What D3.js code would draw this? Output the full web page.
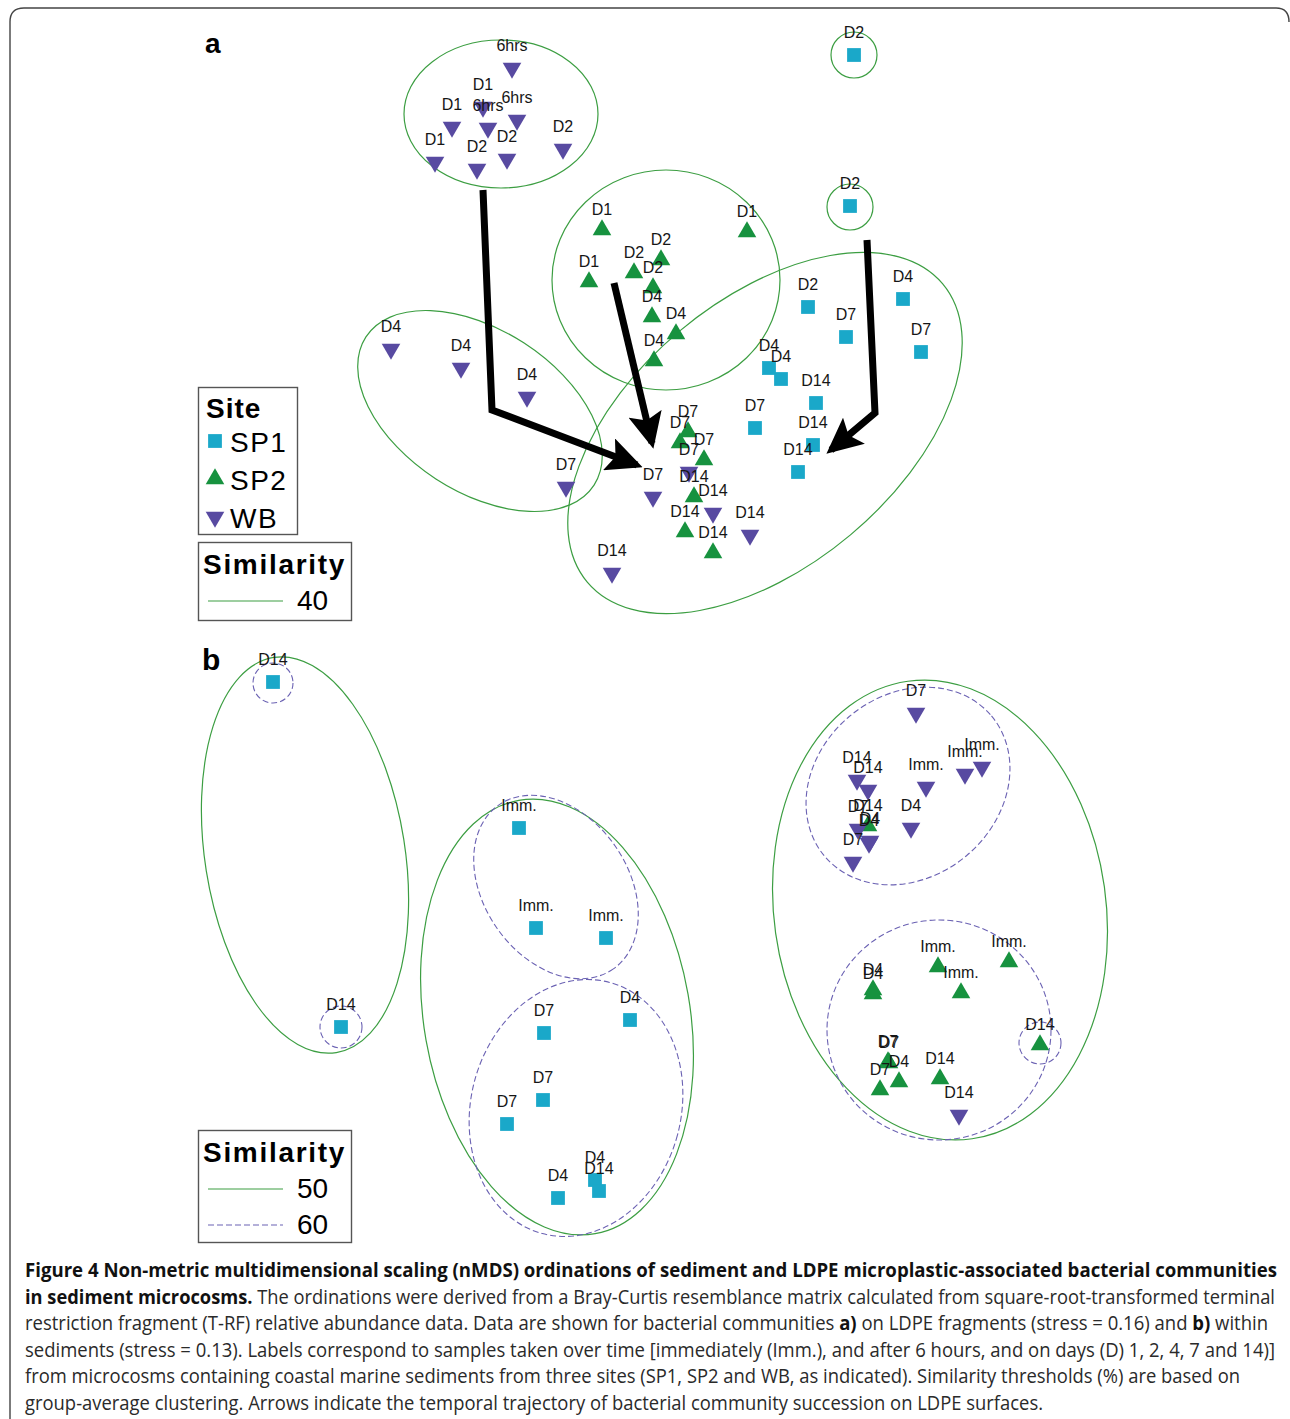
<!DOCTYPE html>
<html>
<head>
<meta charset="utf-8">
<script src="https://cdn.jsdelivr.net/npm/d3@7"></script>
<style>
  body { margin: 0; background: #fff; }
  svg { display: block; }
  .lab { font-family: "Liberation Sans", Arial, sans-serif; font-size: 16px; fill: #161616; text-anchor: middle; }
  .leg { font-family: "Liberation Sans", Arial, sans-serif; fill: #000; }
  .cap { font-family: "Open Sans", "Liberation Sans", sans-serif; font-size: 19.5px; fill: #2a2a2a; }
</style>
</head>
<body>
<script>
// nMDS ordinations, figure 4 (arbitrary ordination units)

var W = 1290, H = 1419;

var siteColor = { SP1: "#1aa8c9", SP2: "#17923f", WB: "#584aa1" };

// panel a : LDPE fragments   [x, y, label]
var aSP1 = [
  [1.94, 2.75, "D2"], [1.90, 1.24, "D2"], [1.48, 0.23, "D2"], [2.43, 0.31, "D4"],
  [1.86, -0.07, "D7"], [2.61, -0.22, "D7"], [1.09, -0.38, "D4"], [1.21, -0.49, "D4"],
  [1.56, -0.73, "D14"], [0.95, -0.98, "D7"], [1.53, -1.15, "D14"], [1.38, -1.42, "D14"]
];
var aSP2 = [
  [-0.58, 1.00, "D1"], [0.87, 0.98, "D1"], [-0.71, 0.48, "D1"], [-0.26, 0.57, "D2"],
  [0.01, 0.70, "D2"], [-0.07, 0.42, "D2"], [-0.08, 0.13, "D4"], [0.16, -0.04, "D4"],
  [-0.06, -0.31, "D4"], [0.28, -1.02, "D7"], [0.20, -1.13, "D7"], [0.44, -1.30, "D7"],
  [0.34, -1.67, "D14"], [0.25, -2.02, "D14"], [0.53, -2.23, "D14"]
];
var aWB = [
  [-1.48, 2.62, "6hrs"], [-1.77, 2.23, "D1"], [-2.08, 2.03, "D1"], [-1.72, 2.02, "6hrs"],
  [-1.43, 2.10, "6hrs"], [-2.25, 1.68, "D1"], [-1.83, 1.61, "D2"], [-1.53, 1.71, "D2"],
  [-0.97, 1.81, "D2"], [-2.69, -0.19, "D4"], [-1.99, -0.38, "D4"], [-1.33, -0.67, "D4"],
  [-0.94, -1.57, "D7"], [0.29, -1.42, "D7"], [-0.07, -1.67, "D7"], [0.53, -1.83, "D14"],
  [0.90, -2.05, "D14"], [-0.48, -2.43, "D14"]
];
// 40% similarity contours  [cx, cy, rx, ry, angle]
var aSim40 = [
  [-1.59, 2.16, 0.97, 0.74, 0], [1.94, 2.75, 0.23, 0.23, 0], [1.90, 1.23, 0.23, 0.23, 0],
  [-1.80, -0.81, 1.36, 0.81, 33], [0.06, 0.50, 1.14, 1.10, 0], [1.05, -1.03, 2.32, 1.33, -40]
];
// succession arrows
var aArrows = [
  [[-1.77, 1.40], [-1.68, -0.80], [-0.23, -1.35]],
  [[-0.46, 0.47], [-0.08, -1.13]],
  [[2.07, 0.90], [2.15, -0.83], [1.71, -1.20]]
];

// panel b : sediments
var bSP1 = [
  [-3.87, 2.68, "D14"], [-3.19, -0.77, "D14"], [-1.41, 1.22, "Imm."], [-1.24, 0.22, "Imm."],
  [-0.54, 0.12, "Imm."], [-0.30, -0.70, "D4"], [-1.16, -0.83, "D7"], [-1.17, -1.50, "D7"],
  [-1.53, -1.74, "D7"], [-1.02, -2.48, "D4"], [-0.65, -2.30, "D4"], [-0.61, -2.41, "D14"]
];
var bSP2 = [
  [2.08, 1.24, "D14"], [2.78, -0.17, "Imm."], [3.49, -0.12, "Imm."], [3.01, -0.43, "Imm."],
  [2.13, -0.40, "D4"], [2.13, -0.44, "D4"], [3.80, -0.95, "D14"], [2.28, -1.12, "D7"],
  [2.29, -1.13, "D7"], [2.39, -1.32, "D4"], [2.20, -1.40, "D7"], [2.80, -1.29, "D14"]
];
var bWB = [
  [2.56, 2.37, "D7"], [3.05, 1.76, "Imm."], [3.22, 1.83, "Imm."], [2.66, 1.63, "Imm."],
  [1.97, 1.70, "D14"], [2.08, 1.60, "D14"], [1.98, 1.21, "D7"], [2.09, 1.07, "D4"],
  [2.10, 1.09, "D4"], [2.51, 1.22, "D4"], [1.93, 0.88, "D7"], [2.99, -1.65, "D14"]
];
var bSim50 = [
  [-3.55, 0.95, 1.00, 2.00, -9], [-1.03, -0.67, 1.33, 2.20, -10], [2.80, 0.40, 1.66, 2.31, -8]
];
var bSim60 = [
  [-3.87, 2.67, 0.20, 0.20, 0], [-3.19, -0.77, 0.21, 0.21, 0], [-1.04, 0.63, 1.00, 0.72, 55],
  [-0.84, -1.58, 1.05, 1.30, 15], [2.48, 1.64, 1.09, 0.91, -40], [2.79, -0.80, 1.12, 1.10, 0],
  [3.80, -0.93, 0.21, 0.21, 0]
];

var captionLines = [
  [["b", "Figure 4 Non-metric multidimensional scaling (nMDS) ordinations of sediment and LDPE microplastic-associated bacterial communities"]],
  [["b", "in sediment microcosms."], ["r", " The ordinations were derived from a Bray-Curtis resemblance matrix calculated from square-root-transformed terminal"]],
  [["r", "restriction fragment (T-RF) relative abundance data. Data are shown for bacterial communities "], ["b", "a)"], ["r", " on LDPE fragments (stress = 0.16) and "], ["b", "b)"], ["r", " within"]],
  [["r", "sediments (stress = 0.13). Labels correspond to samples taken over time [immediately (Imm.), and after 6 hours, and on days (D) 1, 2, 4, 7 and 14)]"]],
  [["r", "from microcosms containing coastal marine sediments from three sites (SP1, SP2 and WB, as indicated). Similarity thresholds (%) are based on"]],
  [["r", "group-average clustering. Arrows indicate the temporal trajectory of bacterial community succession on LDPE surfaces."]]
];
var captionEnds = [1277, 1275, 1268, 1275, 1240, 1043];

//////////////////////////////////////////////////////////////////////////////

var svg = d3.select("body").append("svg").attr("width", W).attr("height", H);

var xA = d3.scaleLinear().domain([-6, 6]).range([60, 1260]);
var yA = d3.scaleLinear().domain([-3, 3]).range([630, 30]);
var xB = d3.scaleLinear().domain([-6, 6]).range([60, 1260]);
var yB = d3.scaleLinear().domain([-3, 3]).range([1250, 650]);

// figure frame
svg.append("path")
  .attr("d", "M10,1419 V22 Q10,8 24,8 H1276 Q1289,8 1289,22")
  .attr("fill", "none").attr("stroke", "#444").attr("stroke-width", 1.4);

var square = d3.symbol().type(d3.symbolSquare).size(190);
var triangle = d3.symbol().type(d3.symbolTriangle).size(150);

var shapeOf = {
  SP1: { path: square(), rot: 0, dy: -17 },
  SP2: { path: triangle(), rot: 0, dy: -15 },
  WB:  { path: triangle(), rot: 180, dy: -17 }
};

function drawEllipses(g, x, y, list, dashed) {
  g.append("g").selectAll("ellipse").data(list).enter().append("ellipse")
    .attr("cx", 0).attr("cy", 0)
    .attr("rx", d => x(d[2]) - x(0))
    .attr("ry", d => y(0) - y(d[3]))
    .attr("transform", d => "translate(" + x(d[0]) + "," + y(d[1]) + ") rotate(" + d[4] + ")")
    .attr("fill", "none")
    .attr("stroke", dashed ? "#6b62b3" : "#3c9e42")
    .attr("stroke-width", dashed ? 1.1 : 1.2)
    .attr("stroke-dasharray", dashed ? "6,3" : null);
}

function drawSamples(g, x, y, site, list) {
  var s = shapeOf[site];
  g.append("g").selectAll("path").data(list).enter().append("path")
    .attr("d", s.path)
    .attr("transform", d => "translate(" + x(d[0]) + "," + y(d[1]) + ") rotate(" + s.rot + ")")
    .attr("fill", siteColor[site]);
}

function drawLabels(g, x, y, site, list) {
  var s = shapeOf[site];
  g.append("g").selectAll("text").data(list).enter().append("text")
    .attr("class", "lab")
    .attr("x", d => x(d[0]))
    .attr("y", d => y(d[1]) + s.dy)
    .text(d => d[2]);
}

// ---------------- panel a
var ga = svg.append("g");
drawEllipses(ga, xA, yA, aSim40, false);
drawSamples(ga, xA, yA, "SP1", aSP1);
drawSamples(ga, xA, yA, "SP2", aSP2);
drawSamples(ga, xA, yA, "WB", aWB);
drawLabels(ga, xA, yA, "SP1", aSP1);
drawLabels(ga, xA, yA, "SP2", aSP2);
drawLabels(ga, xA, yA, "WB", aWB);

svg.append("defs").append("marker")
  .attr("id", "head")
  .attr("markerUnits", "userSpaceOnUse")
  .attr("viewBox", "0 0 36 34")
  .attr("markerWidth", 36).attr("markerHeight", 34)
  .attr("refX", 30).attr("refY", 17)
  .attr("orient", "auto")
  .append("path").attr("d", "M0,0 L36,17 L0,34 L7,17 Z").attr("fill", "#000");

var arrowLine = d3.line().x(d => xA(d[0])).y(d => yA(d[1]));
ga.append("g").selectAll("path").data(aArrows).enter().append("path")
  .attr("d", arrowLine)
  .attr("fill", "none").attr("stroke", "#000").attr("stroke-width", 7)
  .attr("stroke-linejoin", "miter")
  .attr("marker-end", "url(#head)");

// ---------------- panel b
var gb = svg.append("g");
drawEllipses(gb, xB, yB, bSim50, false);
drawEllipses(gb, xB, yB, bSim60, true);
drawSamples(gb, xB, yB, "SP1", bSP1);
drawSamples(gb, xB, yB, "SP2", bSP2);
drawSamples(gb, xB, yB, "WB", bWB);
drawLabels(gb, xB, yB, "SP1", bSP1);
drawLabels(gb, xB, yB, "SP2", bSP2);
drawLabels(gb, xB, yB, "WB", bWB);

// panel letters
svg.append("text").attr("class", "leg").attr("x", 205).attr("y", 53)
  .attr("font-size", 28).attr("font-weight", "bold").text("a");
svg.append("text").attr("class", "leg").attr("x", 202).attr("y", 670)
  .attr("font-size", 30).attr("font-weight", "bold").text("b");

// ---------------- legends
var lg = svg.append("g");
lg.append("rect").attr("x", 198.5).attr("y", 387.5).attr("width", 99).attr("height", 147)
  .attr("fill", "#fff").attr("stroke", "#555").attr("stroke-width", 1.4);
lg.append("text").attr("class", "leg").attr("x", 206).attr("y", 418)
  .attr("font-size", 28).attr("font-weight", "bold").attr("letter-spacing", 1).text("Site");
var legSites = ["SP1", "SP2", "WB"];
legSites.forEach(function (s, i) {
  var cy = 441 + i * 38;
  lg.append("path").attr("d", shapeOf[s].path)
    .attr("transform", "translate(215," + cy + ") rotate(" + shapeOf[s].rot + ")")
    .attr("fill", siteColor[s]);
  lg.append("text").attr("class", "leg").attr("x", 230).attr("y", cy + 11)
    .attr("font-size", 28).attr("letter-spacing", 1.5).text(s);
});

function simLegend(top, items) {
  var h = items.length === 1 ? 78 : 112;
  lg.append("rect").attr("x", 198.5).attr("y", top + 0.5).attr("width", 153).attr("height", h)
    .attr("fill", "#fff").attr("stroke", "#555").attr("stroke-width", 1.4);
  lg.append("text").attr("class", "leg").attr("x", 203).attr("y", top + 32)
    .attr("font-size", 28).attr("font-weight", "bold").attr("letter-spacing", 1.7).text("Similarity");
  items.forEach(function (it, i) {
    var ly = top + 59 + i * 36;
    lg.append("line").attr("x1", 208).attr("x2", 283).attr("y1", ly).attr("y2", ly)
      .attr("stroke", it.dashed ? "#6b62b3" : "#3c9e42").attr("stroke-width", 1.2)
      .attr("stroke-dasharray", it.dashed ? "6,3" : null);
    lg.append("text").attr("class", "leg").attr("x", 297).attr("y", ly + 9)
      .attr("font-size", 28).text(it.label);
  });
}
simLegend(542, [{ label: "40", dashed: false }]);
simLegend(1130, [{ label: "50", dashed: false }, { label: "60", dashed: true }]);

// ---------------- caption
var cap = svg.append("g");
captionLines.forEach(function (parts, i) {
  var t = cap.append("text").attr("class", "cap")
    .attr("x", 25).attr("y", 1277 + i * 26.6)
    .attr("textLength", captionEnds[i] - 25)
    .attr("lengthAdjust", "spacingAndGlyphs");
  parts.forEach(function (p) {
    t.append("tspan").attr("font-weight", p[0] === "b" ? "bold" : null)
      .attr("fill", p[0] === "b" ? "#111" : null)
      .text(p[1]);
  });
});
</script>
</body>
</html>
